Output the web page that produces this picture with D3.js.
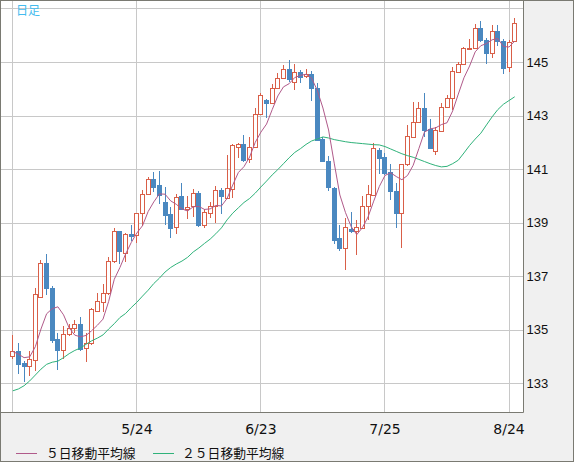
<!DOCTYPE html>
<html lang="ja">
<head>
<meta charset="utf-8" />
<title>日足チャート</title>
<style>
html,body{margin:0;padding:0;background:#f0f0f0}
svg{display:block}
.ylab text{font:13px "Liberation Sans",Arial,sans-serif;fill:#111}
.xlab text{font:14px "DejaVu Sans",sans-serif;fill:#111}
.legend text{font:12.8px "Noto Sans CJK JP",sans-serif;fill:#111}
</style>
<script src="https://cdn.jsdelivr.net/npm/d3@7/dist/d3.min.js"></script>
</head>
<body>
<script>
// ---- data (2023-04-24 .. 2023-08-25, daily) ----
const opens = [
  134.00,134.21,133.75,133.63,133.85,136.21,137.50,136.56,134.63,134.23,
  134.84,135.04,135.21,134.31,134.48,135.71,136.04,136.36,137.56,138.68,
  137.87,138.56,138.53,139.37,140.05,140.61,140.40,139.78,139.32,138.82,
  139.99,139.50,139.62,140.09,138.89,139.35,139.60,140.22,139.91,140.24,
  141.81,141.92,141.36,141.84,143.05,143.58,143.45,144.01,144.40,144.73,
  144.27,144.64,144.46,144.56,144.02,142.13,141.31,140.29,138.43,138.05,
  138.74,138.68,138.80,139.61,140.03,141.71,141.44,140.88,140.18,139.37,
  141.18,142.21,142.75,143.27,142.50,141.68,142.43,143.30,143.64,144.64,
  144.93,145.49,145.53,146.26,145.82,145.35,146.17,145.80,144.80,145.78];
const highs = [
  134.78,134.48,133.81,134.19,136.56,137.59,137.81,136.63,134.88,135.15,
  135.19,135.35,135.48,134.88,135.79,136.38,136.70,137.72,138.78,138.68,
  138.60,138.90,139.37,140.21,140.71,140.90,140.92,140.34,139.59,140.06,
  140.49,139.99,140.24,140.16,139.50,139.78,140.37,140.28,141.52,141.94,
  141.96,142.27,142.18,143.27,143.83,143.60,144.17,144.60,144.89,145.08,
  144.93,144.71,144.73,144.65,144.21,142.20,141.47,140.32,138.92,139.17,
  139.38,139.11,139.98,140.41,141.96,141.77,141.59,141.19,140.47,141.19,
  142.65,143.52,143.52,143.86,142.86,142.58,143.48,143.76,144.80,145.01,
  145.57,145.85,146.42,146.53,145.88,146.38,146.38,145.85,145.82,146.63];
const lows = [
  133.90,133.35,133.03,133.25,133.44,136.19,136.31,134.50,133.50,133.90,
  134.75,134.88,134.19,133.78,134.44,135.69,135.67,136.29,137.50,137.45,
  137.54,138.32,138.25,138.87,140.02,140.15,139.71,138.90,138.41,138.57,
  139.47,139.12,139.22,138.85,138.79,139.16,139.00,139.31,139.87,139.91,
  141.40,141.28,141.24,141.81,143.02,142.90,143.43,143.98,144.36,144.24,
  143.96,144.21,144.40,143.56,142.07,141.25,140.17,138.18,137.93,137.24,
  138.61,137.77,138.76,139.11,140.00,140.80,140.78,139.85,138.79,138.04,
  141.12,142.19,142.71,142.19,141.74,141.53,142.40,143.27,143.22,144.60,
  144.91,145.45,145.51,145.76,144.93,145.14,145.60,144.54,144.63,145.76];
const closes = [
  134.21,133.73,133.63,133.90,136.34,137.50,136.56,134.60,134.23,134.84,
  135.06,135.21,134.29,134.50,135.75,136.06,136.36,137.56,138.68,137.94,
  138.56,138.51,139.34,140.05,140.61,140.34,140.02,139.28,138.81,139.96,
  139.49,139.59,140.09,138.89,139.39,139.60,140.22,140.01,140.28,141.90,
  141.92,141.34,141.81,143.05,143.76,143.45,144.01,144.39,144.73,144.36,
  144.61,144.43,144.55,144.02,142.10,141.29,140.33,138.36,138.05,138.84,
  138.68,138.84,139.63,140.08,141.77,141.43,140.87,140.16,139.37,141.18,
  142.23,142.75,143.27,142.46,141.77,142.46,143.33,143.64,144.66,144.93,
  145.51,145.53,146.26,145.82,145.35,146.17,145.78,144.76,145.76,146.44];
const ma5 = [
  134.18,134.08,133.95,133.98,134.36,135.02,135.59,135.78,135.85,135.55,
  135.06,134.79,134.73,134.78,134.96,135.16,135.39,136.05,136.88,137.32,
  137.82,138.25,138.61,138.88,139.41,139.77,140.07,140.06,139.81,139.68,
  139.51,139.43,139.59,139.60,139.49,139.51,139.64,139.62,139.90,140.40,
  140.87,141.09,141.45,142.00,142.38,142.68,143.22,143.73,144.07,144.19,
  144.42,144.50,144.54,144.39,143.94,143.28,142.46,141.22,140.03,139.37,
  138.85,138.55,138.81,139.21,139.80,140.35,140.76,140.86,140.72,140.60,
  140.76,141.14,141.76,142.38,142.50,142.54,142.66,142.73,143.17,143.80,
  144.41,144.85,145.38,145.61,145.69,145.83,145.88,145.58,145.56,145.78];
const ma25 = [
  132.71,132.78,132.90,133.08,133.30,133.52,133.70,133.78,133.82,133.95,
  134.10,134.22,134.31,134.45,134.58,134.68,134.80,135.02,135.22,135.45,
  135.60,135.82,136.02,136.25,136.47,136.72,136.92,137.15,137.32,137.45,
  137.56,137.70,137.90,138.05,138.22,138.38,138.58,138.80,139.10,139.35,
  139.55,139.75,139.90,140.10,140.33,140.55,140.78,140.98,141.20,141.42,
  141.62,141.76,141.92,142.05,142.12,142.20,142.16,142.10,142.06,142.02,
  141.99,141.97,141.95,141.93,141.91,141.90,141.84,141.75,141.66,141.57,
  141.50,141.44,141.36,141.28,141.20,141.13,141.08,141.10,141.20,141.33,
  141.60,141.88,142.12,142.34,142.65,142.95,143.22,143.42,143.56,143.70];

const xGridIdx   = [0, 22, 44, 66, 88];
const xTickIdx   = [22, 44, 66, 88];
const xTickLabel = ["5/24", "6/23", "7/25", "8/24"];
const yGrid      = [133, 135, 137, 139, 141, 143, 145, 147];
const yTicks     = [133, 135, 137, 139, 141, 143, 145];
const legendNames = ["５日移動平均線", "２５日移動平均線"];

// ---- layout ----
const W = 574, H = 462;
const plot = {l: 1, r: 523.5, t: 1, b: 412.5};
const UP = "#d95f48", DOWN = "#4a88c0", C5 = "#b05a8a", C25 = "#2fb27a";

const x = d3.scaleLinear().domain([-2, 90.65]).range([plot.l, plot.r]);
const y = d3.scaleLinear().domain([131.9, 147.28]).range([plot.b, plot.t]);
const px = v => Math.round(v) + 0.5;

const svg = d3.select("body").append("svg")
  .attr("width", W).attr("height", H);

svg.append("rect").attr("x", 0.5).attr("y", 0.5)
  .attr("width", W - 1).attr("height", H - 1)
  .attr("fill", "#f0f0f0").attr("stroke", "#7a7a72");

svg.append("rect").attr("x", plot.l).attr("y", plot.t)
  .attr("width", plot.r - plot.l).attr("height", plot.b - plot.t)
  .attr("fill", "#fff");

// grid
const grid = svg.append("g").attr("stroke", "#c8c8c8").attr("stroke-width", 1);
grid.selectAll("line.h").data(yGrid).join("line").attr("class", "h")
  .attr("x1", plot.l).attr("x2", plot.r)
  .attr("y1", d => px(y(d))).attr("y2", d => px(y(d)));
grid.selectAll("line.v").data(xGridIdx).join("line").attr("class", "v")
  .attr("y1", plot.t).attr("y2", plot.b)
  .attr("x1", d => px(x(d))).attr("x2", d => px(x(d)));

// plot frame (right and bottom)
svg.append("path")
  .attr("d", `M${plot.r},0V${plot.b}H0`)
  .attr("fill", "none").attr("stroke", "#7a7a72");

// candles (snapped to whole pixels, like the original bitmap chart)
const candles = svg.append("g").attr("shape-rendering", "crispEdges");
closes.forEach((c, i) => {
  const o = opens[i], up = c >= o, col = up ? UP : DOWN;
  const cx = Math.round(x(i));
  candles.append("rect")
    .attr("x", cx).attr("y", Math.round(y(highs[i])))
    .attr("width", 1).attr("height", Math.max(1, Math.round(y(lows[i])) - Math.round(y(highs[i]))))
    .attr("fill", col);
  const top = Math.round(y(Math.max(o, c))), bot = Math.round(y(Math.min(o, c)));
  const h = Math.max(bot - top, 1);
  if (up) {
    candles.append("rect")
      .attr("x", cx - 1.5).attr("y", top + 0.5)
      .attr("width", 4).attr("height", h)
      .attr("fill", "#fff").attr("stroke", col);
  } else {
    candles.append("rect")
      .attr("x", cx - 2).attr("y", top)
      .attr("width", 5).attr("height", h + 1)
      .attr("fill", col);
  }
});

// moving averages
const line = d3.line().x((d, i) => x(i) + 0.5).y(d => y(d));
svg.append("path").datum(ma25).attr("d", line)
  .attr("fill", "none").attr("stroke", C25).attr("stroke-width", 1);
svg.append("path").datum(ma5).attr("d", line)
  .attr("fill", "none").attr("stroke", C5).attr("stroke-width", 1);

// 日足 label
svg.append("text").attr("x", 16).attr("y", 15)
  .attr("font-family", "'Noto Sans CJK JP',sans-serif").attr("font-size", 12)
  .attr("fill", "#44bbee").text("日足");

// axes
const yAxis = svg.append("g").attr("class", "ylab")
  .attr("transform", `translate(${plot.r},0)`)
  .call(d3.axisRight(y).tickValues(yTicks).tickSize(0).tickPadding(3).tickFormat(d3.format("d")));
yAxis.select(".domain").remove();

const xAxis = svg.append("g").attr("class", "xlab")
  .attr("transform", `translate(0,${plot.b})`)
  .call(d3.axisBottom(x).tickValues(xTickIdx).tickSize(0).tickPadding(12)
    .tickFormat((d, i) => xTickLabel[i]));
xAxis.select(".domain").remove();
svg.selectAll(".ylab,.xlab").attr("font-family", null).attr("font-size", null);

// legend
const leg = svg.append("g").attr("class", "legend");
const legItems = [
  {name: legendNames[0], color: C5, x0: 16, tx: 46},
  {name: legendNames[1], color: C25, x0: 153, tx: 182}
];
legItems.forEach(it => {
  leg.append("line").attr("x1", it.x0).attr("x2", it.x0 + 21)
    .attr("y1", 453.5).attr("y2", 453.5).attr("stroke", it.color);
  leg.append("text").attr("x", it.tx).attr("y", 458).text(it.name);
});
</script>
</body>
</html>
